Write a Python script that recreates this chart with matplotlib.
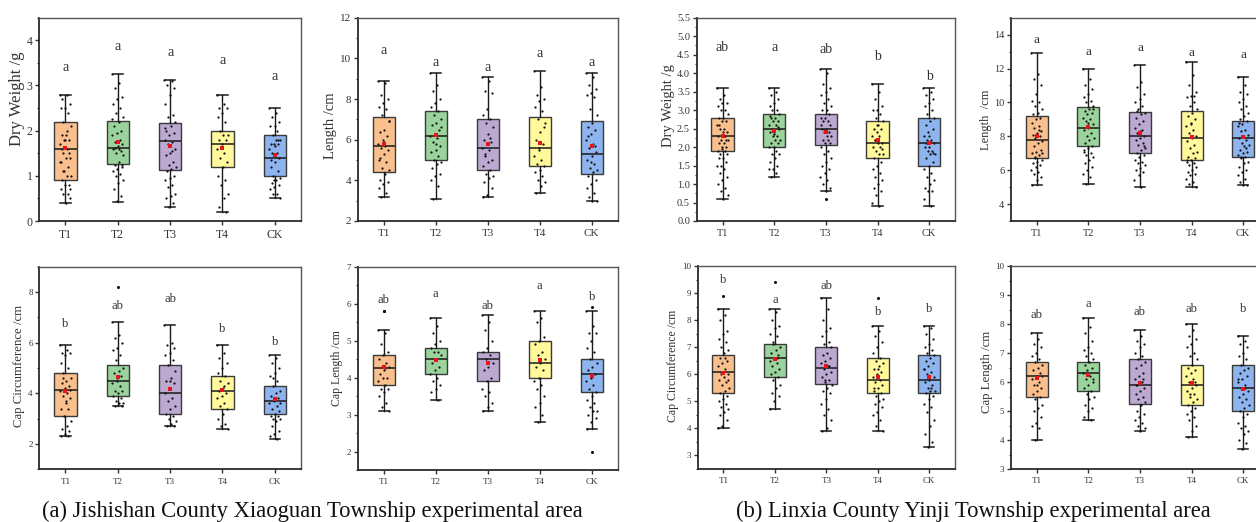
"""Box plots of fruiting-body traits for the two experimental areas (a) and (b)."""

import matplotlib
matplotlib.use("Agg")
import matplotlib.pyplot as plt
from matplotlib.ticker import MultipleLocator, FormatStrFormatter

plt.rcParams["font.family"] = ["Liberation Serif", "DejaVu Serif"]

GROUPS = ["T1", "T2", "T3", "T4", "CK"]
BOX_COLORS = ["#F9C08E", "#9AD39B", "#BCA9D2", "#FFF99B", "#8DB4EE"]

# ---- (a) Jishishan: dry weight ----
a_dw_q1 = [0.9, 1.26, 1.13, 1.2, 1.0]
a_dw_med = [1.6, 1.62, 1.76, 1.7, 1.4]
a_dw_q3 = [2.2, 2.22, 2.17, 2.0, 1.9]
a_dw_lo = [0.4, 0.43, 0.3, 0.2, 0.5]
a_dw_hi = [2.8, 3.26, 3.12, 2.8, 2.5]
a_dw_mean = [1.62, 1.74, 1.67, 1.62, 1.45]
a_dw_sig = ["a", "a", "a", "a", "a"]
a_dw_sig_y = [3.39, 3.87, 3.73, 3.56, 3.19]
a_dw_out = [[], [], [], [], []]
a_dw_pts = [
    [2.8, 2.8, 2.7, 2.6, 2.5, 2.5, 2.4, 2.2, 2.1, 1.9, 1.9, 1.8, 1.8, 1.7, 1.6, 1.5, 1.4, 1.4, 1.3,
     1.2, 1.1, 1.0, 1.0, 0.9, 0.8, 0.8, 0.7, 0.6, 0.6, 0.5, 0.4, 1.6, 1.5, 1.8, 1.3, 2.0, 1.1, 0.7],
    [3.25, 3.05, 2.95, 2.75, 2.7, 2.6, 2.5, 2.4, 2.3, 2.2, 2.1, 2.0, 1.95, 1.9, 1.8, 1.75, 1.7, 1.65,
     1.6, 1.55, 1.5, 1.45, 1.3, 1.25, 1.2, 1.15, 1.1, 1.05, 1.0, 0.9, 0.85, 0.7, 0.55, 0.45, 2.25, 1.6,
     1.62, 1.25],
    [3.12, 3.1, 3.0, 2.95, 2.8, 2.6, 2.35, 2.3, 2.2, 2.1, 2.0, 1.95, 1.9, 1.8, 1.75, 1.7, 1.6, 1.5,
     1.45, 1.3, 1.25, 1.2, 1.15, 1.1, 1.0, 0.95, 0.9, 0.8, 0.75, 0.6, 0.55, 0.5, 0.4, 0.3, 2.05, 1.55],
    [2.8, 2.6, 2.5, 2.5, 2.4, 2.3, 2.2, 2.0, 1.9, 1.9, 1.8, 1.8, 1.7, 1.6, 1.5, 1.4, 1.3, 1.2, 1.0,
     0.9, 0.8, 0.6, 0.5, 0.3, 0.2],
    [2.5, 2.4, 2.3, 2.2, 2.1, 2.1, 2.0, 1.9, 1.8, 1.8, 1.7, 1.7, 1.7, 1.6, 1.5, 1.5, 1.4, 1.3, 1.2,
     1.1, 1.0, 0.95, 0.9, 0.85, 0.8, 0.75, 0.7, 0.6, 0.6, 0.5, 1.65, 1.35, 1.8, 0.9],
]

# ---- (a) length ----
a_len_q1 = [4.4, 5.0, 4.5, 4.7, 4.3]
a_len_med = [5.7, 6.2, 5.6, 5.6, 5.3]
a_len_q3 = [7.1, 7.4, 7.0, 7.1, 6.9]
a_len_lo = [3.2, 3.1, 3.2, 3.4, 3.0]
a_len_hi = [8.9, 9.3, 9.1, 9.4, 9.3]
a_len_mean = [5.77, 6.25, 5.79, 5.85, 5.7]
a_len_sig = ["a", "a", "a", "a", "a"]
a_len_sig_y = [10.38, 9.79, 9.57, 10.26, 9.82]
a_len_out = [[], [], [], [], []]
a_len_pts = [
    [8.9, 8.8, 8.2, 8.0, 7.8, 7.6, 7.5, 7.2, 6.9, 6.5, 6.4, 6.2, 6.0, 5.8, 5.7, 5.6, 5.5, 5.3, 5.0,
     4.9, 4.6, 4.5, 4.3, 4.0, 3.9, 3.8, 3.6, 3.4, 3.2, 6.9, 5.9, 5.1],
    [9.3, 8.7, 8.4, 8.0, 7.8, 7.6, 7.4, 7.2, 7.0, 6.8, 6.7, 6.5, 6.3, 6.2, 6.1, 5.9, 5.7, 5.5, 5.4,
     5.2, 5.0, 4.9, 4.8, 4.6, 4.3, 4.2, 4.0, 3.7, 3.1, 6.6, 5.8],
    [9.1, 8.9, 8.4, 8.3, 7.5, 7.2, 7.0, 6.8, 6.6, 6.3, 6.0, 5.9, 5.8, 5.6, 5.5, 5.3, 5.0, 4.9, 4.7,
     4.5, 4.3, 4.2, 4.1, 3.9, 3.6, 3.3, 3.2, 6.1, 5.2],
    [9.4, 8.6, 8.2, 8.0, 7.9, 7.6, 7.4, 7.0, 6.8, 6.4, 6.0, 5.8, 5.5, 5.2, 5.0, 4.8, 4.7, 4.5, 4.4,
     4.2, 4.0, 3.9, 3.7, 3.4, 6.6, 5.6],
    [9.3, 9.1, 8.7, 8.5, 8.3, 8.2, 8.1, 7.5, 7.2, 6.8, 6.6, 6.5, 6.3, 6.0, 5.8, 5.6, 5.4, 5.2, 5.0,
     4.8, 4.6, 4.5, 4.4, 4.2, 4.0, 3.8, 3.6, 3.4, 3.2, 3.0, 3.0, 6.2, 5.7, 4.9],
]

# ---- (a) cap circumference ----
a_cc_q1 = [3.1, 3.9, 3.2, 3.4, 3.2]
a_cc_med = [4.14, 4.5, 4.0, 4.1, 3.7]
a_cc_q3 = [4.8, 5.1, 5.1, 4.7, 4.3]
a_cc_lo = [2.3, 3.5, 2.7, 2.6, 2.2]
a_cc_hi = [5.9, 6.8, 6.7, 5.9, 5.5]
a_cc_mean = [4.08, 4.64, 4.16, 4.12, 3.76]
a_cc_sig = ["b", "ab", "ab", "b", "b"]
a_cc_sig_y = [6.74, 7.46, 7.72, 6.55, 6.03]
a_cc_out = [[], [8.2], [], [], []]
a_cc_pts = [
    [5.9, 5.7, 5.6, 5.6, 5.5, 5.2, 5.0, 4.8, 4.6, 4.5, 4.4, 4.3, 4.2, 4.1, 4.0, 3.9, 3.8, 3.6, 3.4,
     3.4, 3.1, 2.9, 2.7, 2.6, 2.5, 2.4, 2.3, 2.3, 4.6, 4.15, 3.7],
    [6.8, 6.3, 6.2, 6.0, 5.8, 5.7, 5.5, 5.3, 5.0, 4.9, 4.8, 4.7, 4.5, 4.4, 4.3, 4.1, 4.1, 4.0, 3.9,
     3.8, 3.7, 3.6, 3.6, 3.5, 3.5, 4.6],
    [6.7, 6.0, 5.9, 5.8, 5.6, 5.5, 5.3, 5.1, 4.9, 4.6, 4.5, 4.4, 4.2, 4.0, 3.8, 3.7, 3.5, 3.4, 3.2,
     3.1, 3.0, 2.9, 2.8, 2.7, 2.7, 4.5],
    [5.9, 5.6, 5.4, 5.2, 5.0, 4.8, 4.7, 4.5, 4.4, 4.2, 4.1, 4.0, 3.9, 3.8, 3.6, 3.5, 3.4, 3.2, 3.0,
     2.8, 2.7, 2.6, 4.3],
    [5.5, 5.4, 5.2, 5.0, 4.8, 4.7, 4.5, 4.3, 4.1, 4.0, 3.9, 3.8, 3.7, 3.6, 3.5, 3.4, 3.3, 3.2, 3.1,
     3.1, 3.0, 3.0, 2.9, 2.7, 2.5, 2.4, 2.3, 2.2, 4.6, 3.6],
]

# ---- (a) cap length ----
a_cl_q1 = [3.8, 4.1, 3.9, 4.0, 3.6]
a_cl_med = [4.25, 4.5, 4.5, 4.4, 4.1]
a_cl_q3 = [4.6, 4.8, 4.7, 5.0, 4.5]
a_cl_lo = [3.1, 3.4, 3.1, 2.8, 2.6]
a_cl_hi = [5.3, 5.6, 5.7, 5.8, 5.8]
a_cl_mean = [4.29, 4.48, 4.4, 4.47, 4.05]
a_cl_sig = ["ab", "a", "ab", "a", "b"]
a_cl_sig_y = [6.1, 6.26, 5.94, 6.48, 6.17]
a_cl_out = [[5.8, 5.8], [], [], [], [5.9, 2.0]]
a_cl_pts = [
    [5.3, 5.2, 4.9, 4.7, 4.6, 4.5, 4.4, 4.3, 4.3, 4.2, 4.1, 4.0, 4.0, 3.9, 3.8, 3.7, 3.7, 3.6, 3.5,
     3.3, 3.2, 3.1, 4.25],
    [5.6, 5.4, 5.2, 5.0, 4.9, 4.8, 4.7, 4.7, 4.6, 4.5, 4.4, 4.3, 4.2, 4.1, 4.0, 3.9, 3.8, 3.7, 3.6,
     3.4],
    [5.7, 5.5, 5.3, 5.0, 4.8, 4.7, 4.6, 4.5, 4.4, 4.3, 4.2, 4.0, 3.9, 3.7, 3.6, 3.5, 3.3, 3.2, 3.1],
    [5.8, 5.6, 5.5, 5.1, 5.0, 4.9, 4.7, 4.6, 4.5, 4.4, 4.3, 4.2, 4.0, 3.9, 3.8, 3.7, 3.5, 3.3, 3.2,
     3.0, 2.8],
    [5.8, 5.4, 5.2, 5.2, 5.0, 4.8, 4.7, 4.5, 4.4, 4.3, 4.2, 4.1, 4.0, 3.9, 3.8, 3.7, 3.6, 3.5, 3.4,
     3.3, 3.2, 3.1, 3.1, 3.0, 2.9, 2.8, 2.6],
]

# ---- (b) Linxia: dry weight ----
b_dw_q1 = [1.9, 2.0, 2.05, 1.7, 1.5]
b_dw_med = [2.3, 2.5, 2.5, 2.1, 2.1]
b_dw_q3 = [2.8, 2.9, 2.9, 2.7, 2.8]
b_dw_lo = [0.6, 1.2, 0.8, 0.4, 0.4]
b_dw_hi = [3.6, 3.6, 4.1, 3.7, 3.6]
b_dw_mean = [2.29, 2.44, 2.41, 2.19, 2.1]
b_dw_sig = ["ab", "a", "ab", "b", "b"]
b_dw_sig_y = [4.69, 4.69, 4.64, 4.45, 3.9]
b_dw_out = [[], [], [0.6], [], []]
b_dw_pts = [
    [3.6, 3.4, 3.3, 3.2, 3.2, 3.1, 3.0, 3.0, 2.9, 2.8, 2.8, 2.7, 2.7, 2.6, 2.5, 2.5, 2.4, 2.4, 2.3,
     2.3, 2.2, 2.2, 2.1, 2.1, 2.0, 2.0, 1.9, 1.9, 1.8, 1.8, 1.7, 1.7, 1.6, 1.5, 1.5, 1.4, 1.3, 1.2,
     1.1, 1.0, 0.9, 0.8, 0.7, 0.6, 2.6, 2.2, 1.95],
    [3.6, 3.5, 3.4, 3.3, 3.2, 3.1, 3.0, 3.0, 2.9, 2.8, 2.8, 2.7, 2.7, 2.6, 2.6, 2.5, 2.5, 2.4, 2.4,
     2.3, 2.3, 2.2, 2.2, 2.1, 2.1, 2.0, 2.0, 1.9, 1.8, 1.8, 1.7, 1.6, 1.5, 1.4, 1.4, 1.3, 1.2, 2.55,
     2.35, 2.85],
    [4.1, 4.0, 3.7, 3.6, 3.5, 3.4, 3.3, 3.2, 3.1, 3.0, 3.0, 2.9, 2.8, 2.8, 2.7, 2.7, 2.6, 2.5, 2.5,
     2.4, 2.4, 2.3, 2.3, 2.2, 2.1, 2.1, 2.0, 1.9, 1.8, 1.7, 1.6, 1.5, 1.4, 1.3, 1.2, 1.1, 1.0, 0.9,
     0.8, 2.6, 2.2],
    [3.7, 3.5, 3.3, 3.1, 3.0, 3.0, 2.9, 2.8, 2.7, 2.6, 2.5, 2.5, 2.4, 2.3, 2.3, 2.2, 2.1, 2.1, 2.0,
     2.0, 1.9, 1.8, 1.8, 1.7, 1.6, 1.5, 1.4, 1.3, 1.2, 1.1, 1.0, 0.9, 0.8, 0.7, 0.5, 0.4, 2.2, 1.95,
     2.6],
    [3.6, 3.5, 3.4, 3.3, 3.2, 3.1, 3.0, 2.9, 2.8, 2.7, 2.6, 2.5, 2.4, 2.3, 2.2, 2.2, 2.1, 2.0, 2.0,
     1.9, 1.9, 1.8, 1.8, 1.7, 1.6, 1.5, 1.4, 1.3, 1.2, 1.1, 1.0, 0.9, 0.8, 0.8, 0.6, 0.4, 2.1, 1.85,
     2.3],
]

# ---- (b) length ----
b_len_q1 = [6.7, 7.4, 7.0, 6.6, 6.8]
b_len_med = [7.8, 8.5, 8.0, 7.9, 7.9]
b_len_q3 = [9.2, 9.7, 9.45, 9.5, 8.9]
b_len_lo = [5.1, 5.2, 5.0, 5.0, 5.1]
b_len_hi = [12.9, 12.0, 12.2, 12.4, 11.5]
b_len_mean = [8.0, 8.55, 8.22, 7.96, 7.96]
b_len_sig = ["a", "a", "a", "a", "a"]
b_len_sig_y = [13.7, 12.97, 13.22, 12.9, 12.8]
b_len_out = [[], [], [], [], []]
b_len_pts = [
    [12.9, 11.7, 11.4, 11.0, 10.5, 10.1, 10.0, 9.8, 9.6, 9.4, 9.3, 9.1, 9.0, 8.8, 8.6, 8.5, 8.3, 8.2,
     8.1, 8.0, 7.9, 7.7, 7.6, 7.4, 7.2, 7.1, 7.0, 6.9, 6.8, 6.6, 6.5, 6.4, 6.3, 6.2, 6.0, 5.9, 5.8,
     5.6, 5.4, 5.1, 8.4, 6.7, 7.0],
    [12.0, 11.4, 11.0, 10.8, 10.5, 10.3, 10.1, 10.0, 9.8, 9.6, 9.5, 9.4, 9.3, 9.1, 9.0, 8.9, 8.7, 8.5,
     8.4, 8.2, 8.0, 7.9, 7.8, 7.6, 7.4, 7.3, 7.1, 7.0, 6.9, 6.8, 6.6, 6.4, 6.2, 6.0, 5.8, 5.6, 5.2,
     9.6, 8.8, 7.2],
    [12.2, 11.2, 10.9, 10.5, 10.2, 10.0, 9.8, 9.6, 9.4, 9.3, 9.1, 8.9, 8.7, 8.5, 8.4, 8.2, 8.0, 7.9,
     7.8, 7.6, 7.5, 7.3, 7.2, 7.0, 6.9, 6.8, 6.6, 6.5, 6.4, 6.3, 6.1, 6.0, 5.9, 5.7, 5.4, 5.0, 9.5,
     7.4, 8.3],
    [12.4, 11.6, 11.0, 10.6, 10.4, 10.3, 10.0, 9.8, 9.6, 9.4, 9.2, 9.0, 8.8, 8.6, 8.4, 8.2, 8.0, 7.9,
     7.7, 7.5, 7.3, 7.1, 7.0, 6.8, 6.7, 6.6, 6.5, 6.4, 6.3, 6.2, 6.0, 5.9, 5.8, 5.7, 5.5, 5.3, 5.2,
     5.0, 8.7, 6.6, 10.4],
    [11.5, 11.0, 10.6, 10.5, 10.2, 10.0, 9.8, 9.6, 9.4, 9.2, 9.0, 8.9, 8.7, 8.6, 8.4, 8.3, 8.1, 8.0,
     7.9, 7.8, 7.6, 7.5, 7.4, 7.2, 7.1, 7.0, 6.9, 6.8, 6.7, 6.5, 6.4, 6.2, 6.0, 5.9, 5.7, 5.5, 5.3,
     5.1, 5.1, 8.8, 7.3, 6.8],
]

# ---- (b) cap circumference ----
b_cc_q1 = [5.3, 5.9, 5.65, 5.3, 5.3]
b_cc_med = [6.1, 6.6, 6.25, 5.8, 5.8]
b_cc_q3 = [6.7, 7.1, 7.0, 6.6, 6.7]
b_cc_lo = [4.0, 4.7, 3.9, 3.9, 3.3]
b_cc_hi = [8.4, 8.4, 8.8, 7.8, 7.8]
b_cc_mean = [6.05, 6.55, 6.3, 5.9, 5.9]
b_cc_sig = ["b", "a", "ab", "b", "b"]
b_cc_sig_y = [9.5, 8.75, 9.25, 8.3, 8.4]
b_cc_out = [[8.9], [9.4], [], [8.8], []]
b_cc_pts = [
    [8.4, 8.2, 8.0, 7.6, 7.5, 7.3, 7.2, 7.0, 6.9, 6.8, 6.6, 6.5, 6.4, 6.3, 6.2, 6.1, 6.0, 5.9, 5.8,
     5.7, 5.6, 5.5, 5.4, 5.3, 5.2, 5.1, 5.0, 4.9, 4.8, 4.7, 4.6, 4.5, 4.3, 4.1, 4.0, 6.6, 6.0, 5.8],
    [8.4, 8.3, 8.0, 7.8, 7.7, 7.5, 7.4, 7.2, 7.0, 6.9, 6.8, 6.7, 6.6, 6.5, 6.4, 6.3, 6.2, 6.1, 6.0,
     5.9, 5.8, 5.6, 5.5, 5.3, 5.2, 5.0, 4.7, 6.6, 7.1],
    [8.8, 8.4, 8.0, 7.7, 7.6, 7.4, 7.2, 7.1, 7.0, 6.8, 6.7, 6.6, 6.5, 6.4, 6.3, 6.2, 6.1, 6.0, 5.9,
     5.8, 5.7, 5.6, 5.5, 5.4, 5.3, 5.1, 4.9, 4.7, 4.5, 4.3, 4.0, 3.9, 6.3, 5.8],
    [7.8, 7.6, 7.4, 7.2, 7.0, 6.8, 6.6, 6.5, 6.4, 6.3, 6.2, 6.1, 6.0, 5.9, 5.8, 5.7, 5.6, 5.5, 5.4,
     5.3, 5.2, 5.1, 5.0, 4.9, 4.8, 4.6, 4.5, 4.3, 4.1, 3.9, 6.2, 5.5],
    [7.8, 7.7, 7.5, 7.3, 7.1, 7.0, 6.9, 6.8, 6.7, 6.6, 6.5, 6.4, 6.3, 6.2, 6.1, 6.0, 5.9, 5.8, 5.7,
     5.6, 5.5, 5.4, 5.4, 5.3, 5.2, 5.1, 4.9, 4.8, 4.6, 4.3, 4.1, 3.8, 3.5, 3.3, 6.2, 5.5],
]

# ---- (b) cap length ----
b_cl_q1 = [5.5, 5.7, 5.25, 5.2, 5.0]
b_cl_med = [6.2, 6.3, 5.9, 5.9, 5.8]
b_cl_q3 = [6.7, 6.7, 6.8, 6.6, 6.6]
b_cl_lo = [4.0, 4.7, 4.3, 4.1, 3.7]
b_cl_hi = [7.7, 8.2, 7.8, 8.0, 7.6]
b_cl_mean = [6.15, 6.25, 5.95, 5.95, 5.75]
b_cl_sig = ["ab", "a", "ab", "ab", "b"]
b_cl_sig_y = [8.3, 8.7, 8.4, 8.5, 8.5]
b_cl_out = [[], [], [], [], []]
b_cl_pts = [
    [7.7, 7.5, 7.3, 7.2, 7.0, 6.9, 6.8, 6.7, 6.6, 6.5, 6.4, 6.3, 6.2, 6.1, 6.0, 5.9, 5.8, 5.7, 5.6,
     5.5, 5.4, 5.2, 5.1, 5.0, 4.8, 4.6, 4.5, 4.4, 4.0, 6.2, 5.9],
    [8.2, 7.9, 7.7, 7.4, 7.2, 7.1, 7.0, 6.9, 6.8, 6.7, 6.6, 6.5, 6.4, 6.3, 6.2, 6.1, 6.0, 5.9, 5.8,
     5.7, 5.6, 5.5, 5.4, 5.2, 5.1, 5.0, 4.8, 4.7, 6.3, 6.1],
    [7.8, 7.6, 7.4, 7.3, 7.2, 7.0, 6.9, 6.8, 6.7, 6.6, 6.5, 6.3, 6.2, 6.1, 6.0, 5.9, 5.8, 5.7, 5.6,
     5.5, 5.4, 5.3, 5.2, 5.0, 4.9, 4.8, 4.7, 4.6, 4.5, 4.4, 4.3, 5.9, 6.1],
    [8.0, 7.8, 7.6, 7.5, 7.3, 7.2, 7.0, 6.9, 6.8, 6.6, 6.5, 6.4, 6.3, 6.2, 6.1, 6.0, 5.9, 5.8, 5.7,
     5.6, 5.5, 5.4, 5.3, 5.2, 5.1, 5.0, 4.9, 4.8, 4.7, 4.5, 4.3, 4.1, 6.0, 5.6],
    [7.6, 7.4, 7.3, 7.2, 7.0, 6.9, 6.8, 6.6, 6.5, 6.4, 6.3, 6.2, 6.1, 6.0, 5.9, 5.8, 5.7, 5.6, 5.5,
     5.4, 5.3, 5.2, 5.1, 5.0, 4.9, 4.8, 4.6, 4.5, 4.4, 4.3, 4.2, 4.0, 3.9, 3.7, 6.1, 5.8],
]


def draw_panel(ax, q1, med, q3, lo, hi, mean, sig, sig_y, pts, out, ylabel, ylim, major, minor,
               label_xy, tick_fs=7.5, label_fs=9.5, sig_fs=9, fmt=None):
    pos = list(range(1, len(GROUPS) + 1))
    stats = [
        dict(q1=q1[i], med=med[i], q3=q3[i], whislo=lo[i], whishi=hi[i], fliers=out[i], label=GROUPS[i])
        for i in range(len(GROUPS))
    ]
    bp = ax.bxp(
        stats, positions=pos, widths=0.43, capwidths=0.2, patch_artist=True, showfliers=True,
        boxprops=dict(edgecolor="#3a3a3a", linewidth=1.0),
        medianprops=dict(color="#1a1a1a", linewidth=1.1),
        whiskerprops=dict(color="#1a1a1a", linewidth=1.0),
        capprops=dict(color="#1a1a1a", linewidth=1.1),
        flierprops=dict(marker="o", markersize=1.2, markerfacecolor="#111", markeredgecolor="#111"),
        zorder=2,
    )
    for patch, c in zip(bp["boxes"], BOX_COLORS):
        patch.set_facecolor(c)
    for m in bp["medians"]:
        m.set_zorder(4)

    # fixed small horizontal spread for the raw points
    for i, vals in enumerate(pts):
        xs = [pos[i] + ((k * 0.6180339) % 1.0 - 0.5) * 0.22 for k in range(len(vals))]
        ax.scatter(xs, vals, s=2.6, c="#111111", linewidths=0, zorder=3)
    ax.scatter(pos, mean, s=9, marker="s", c="#e8141b", linewidths=0, zorder=5)

    for i, (t, y) in enumerate(zip(sig, sig_y)):
        ax.text(pos[i], y, t, ha="center", va="center", fontsize=sig_fs, color="#333333")

    ax.set_xlim(0.5, 5.5)
    ax.set_ylim(*ylim)
    ax.set_xticks(pos)
    ax.set_xticklabels(GROUPS)
    ax.yaxis.set_major_locator(MultipleLocator(major))
    ax.yaxis.set_minor_locator(MultipleLocator(minor))
    if fmt:
        ax.yaxis.set_major_formatter(FormatStrFormatter(fmt))
    ax.tick_params(which="major", direction="out", length=2.6, width=1.0, pad=2.2, color="#333",
                   labelsize=tick_fs, labelcolor="#333")
    ax.tick_params(which="minor", direction="out", length=1.6, width=0.8, color="#333")
    ax.tick_params(axis="x", which="minor", bottom=False)
    ax.tick_params(axis="x", which="major", pad=3.5)
    ax.set_ylabel(ylabel, fontsize=label_fs, color="#333")
    ax.yaxis.set_label_coords(*label_xy)
    ax.yaxis.label.set_verticalalignment("center")
    for side in ["left", "bottom"]:
        ax.spines[side].set_color("#2a2a2a")
        ax.spines[side].set_linewidth(1.3)
    for side in ["top", "right"]:
        ax.spines[side].set_color("#555555")
        ax.spines[side].set_linewidth(1.0)


W, H = 1256, 522
fig = plt.figure(figsize=(W / 100, H / 100), dpi=100)


def px_axes(left, top, right, bottom):
    return fig.add_axes([left / W, 1 - bottom / H, (right - left) / W, (bottom - top) / H])


ax1 = px_axes(39.3, 17.7, 301, 221)
ax2 = px_axes(357.7, 17.7, 617.7, 221)
ax3 = px_axes(39.3, 266.7, 301, 469.3)
ax4 = px_axes(357.7, 266.7, 617.7, 470)
ax5 = px_axes(696.7, 17.7, 955, 221)
ax6 = px_axes(1011, 17.7, 1269, 221)
ax7 = px_axes(697.7, 266, 955, 469)
ax8 = px_axes(1011, 266, 1269, 469)

draw_panel(ax1, a_dw_q1, a_dw_med, a_dw_q3, a_dw_lo, a_dw_hi, a_dw_mean, a_dw_sig, a_dw_sig_y,
           a_dw_pts, a_dw_out, "Dry Weight /g", (0, 4.5), 1, 0.5, (-0.087, 0.6),
           tick_fs=8.5, label_fs=12, sig_fs=10)
draw_panel(ax2, a_len_q1, a_len_med, a_len_q3, a_len_lo, a_len_hi, a_len_mean, a_len_sig, a_len_sig_y,
           a_len_pts, a_len_out, "Length /cm", (2, 12), 2, 1, (-0.103, 0.47),
           tick_fs=8, label_fs=10.5, sig_fs=10)
draw_panel(ax3, a_cc_q1, a_cc_med, a_cc_q3, a_cc_lo, a_cc_hi, a_cc_mean, a_cc_sig, a_cc_sig_y,
           a_cc_pts, a_cc_out, "Cap Circumference /cm", (1, 9), 2, 1, (-0.076, 0.51),
           tick_fs=6.5, label_fs=9.2, sig_fs=9)
draw_panel(ax4, a_cl_q1, a_cl_med, a_cl_q3, a_cl_lo, a_cl_hi, a_cl_mean, a_cl_sig, a_cl_sig_y,
           a_cl_pts, a_cl_out, "Cap Length /cm", (1.5, 7), 1, 0.5, (-0.08, 0.5),
           tick_fs=6.5, label_fs=8.5, sig_fs=9)
draw_panel(ax5, b_dw_q1, b_dw_med, b_dw_q3, b_dw_lo, b_dw_hi, b_dw_mean, b_dw_sig, b_dw_sig_y,
           b_dw_pts, b_dw_out, "Dry Weight /g", (0, 5.5), 0.5, 0.25, (-0.111, 0.57),
           tick_fs=7.5, label_fs=10.5, sig_fs=10, fmt="%.1f")
draw_panel(ax6, b_len_q1, b_len_med, b_len_q3, b_len_lo, b_len_hi, b_len_mean, b_len_sig, b_len_sig_y,
           b_len_pts, b_len_out, "Length  /cm", (3, 15), 2, 1, (-0.096, 0.5),
           tick_fs=7.5, label_fs=9, sig_fs=9.5)
draw_panel(ax7, b_cc_q1, b_cc_med, b_cc_q3, b_cc_lo, b_cc_hi, b_cc_mean, b_cc_sig, b_cc_sig_y,
           b_cc_pts, b_cc_out, "Cap Circumference /cm", (2.5, 10), 1, 0.5, (-0.096, 0.51),
           tick_fs=6.5, label_fs=8.5, sig_fs=9)
draw_panel(ax8, b_cl_q1, b_cl_med, b_cl_q3, b_cl_lo, b_cl_hi, b_cl_mean, b_cl_sig, b_cl_sig_y,
           b_cl_pts, b_cl_out, "Cap Length /cm", (3, 10), 1, 0.5, (-0.094, 0.48),
           tick_fs=6.5, label_fs=9.2, sig_fs=9)

fig.text(312 / W, 1 - 517 / H, "(a) Jishishan County Xiaoguan Township experimental area",
         ha="center", va="baseline", fontsize=16.3, color="#111")
fig.text(973 / W, 1 - 517 / H, "(b) Linxia County Yinji Township experimental area",
         ha="center", va="baseline", fontsize=16.3, color="#111")

fig.savefig("out.png", dpi=100)
